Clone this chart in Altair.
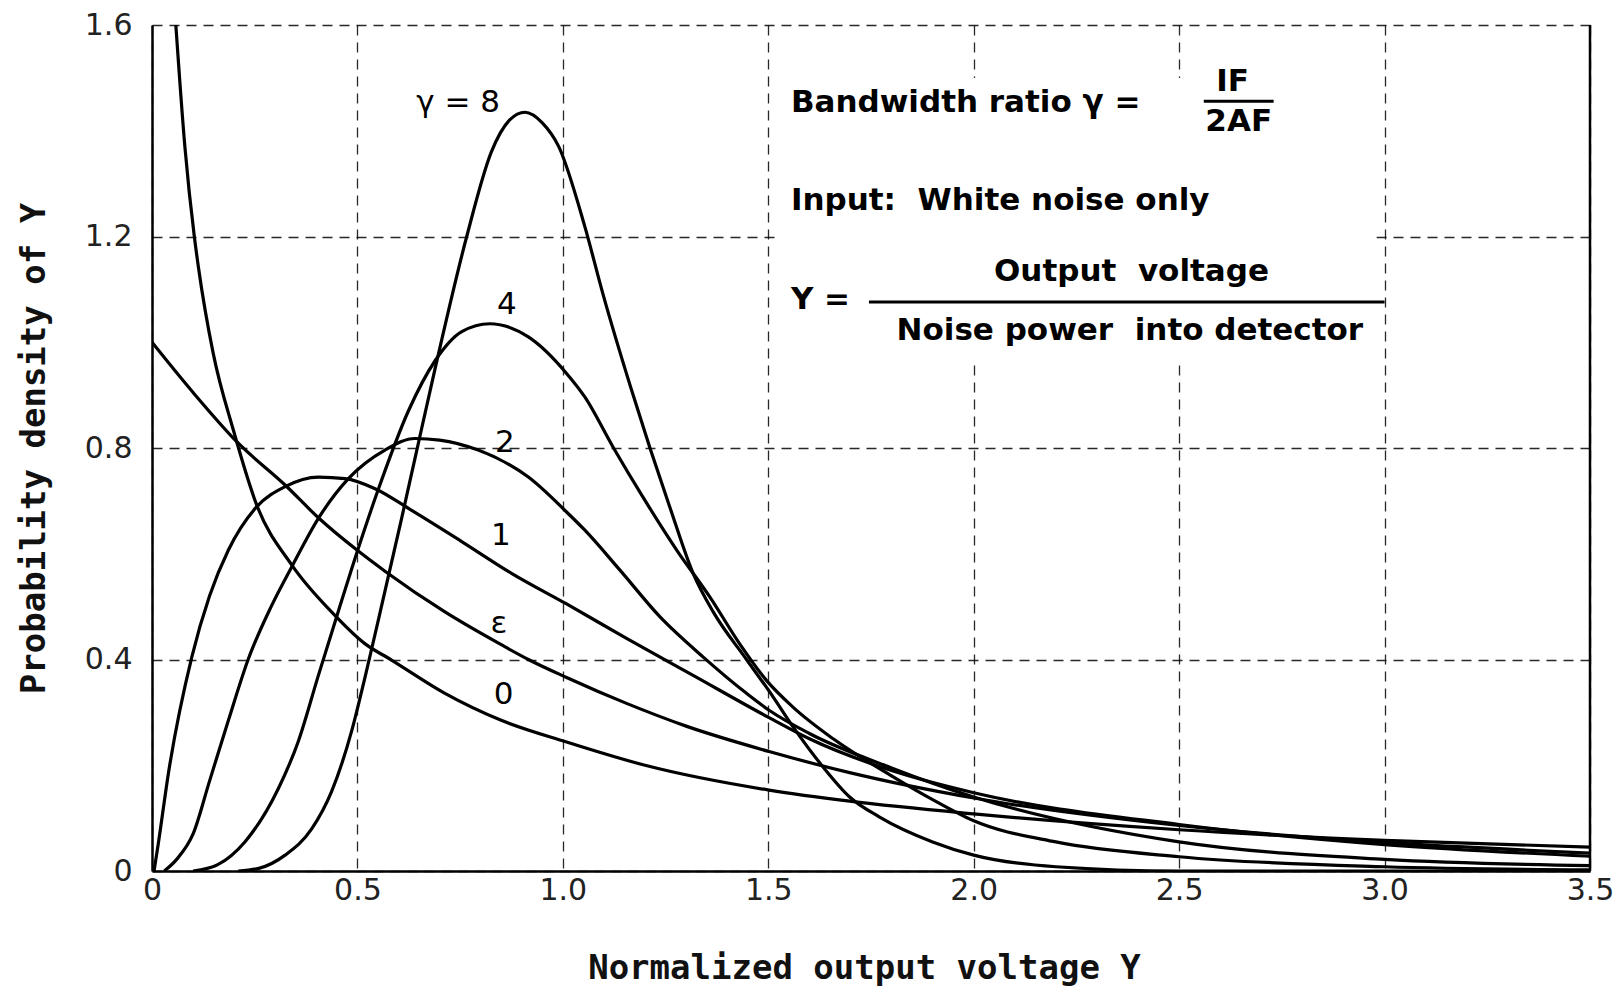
import altair as alt
import pandas as pd

# ---- curve data ----
x_g0 = [0.058, 0.08, 0.103, 0.113, 0.149, 0.198, 0.255, 0.34, 0.437, 0.518, 0.583, 0.713, 0.85, 1.009, 1.2, 1.502, 1.698, 2.0, 2.5, 3.0, 3.5]
y_g0 = [1.6, 1.37, 1.20, 1.142, 0.979, 0.834, 0.692, 0.579, 0.49, 0.43, 0.399, 0.336, 0.285, 0.244, 0.2, 0.153, 0.132, 0.108, 0.078, 0.058, 0.045]

x_eps = [0.0, 0.1, 0.21, 0.324, 0.405, 0.502, 0.567, 0.713, 0.85, 0.916, 1.009, 1.155, 1.3, 1.502, 1.698, 2.0, 2.5, 3.0, 3.5]
y_eps = [1.0, 0.905, 0.809, 0.73, 0.668, 0.605, 0.567, 0.49, 0.428, 0.40, 0.366, 0.317, 0.274, 0.226, 0.186, 0.138, 0.086, 0.054, 0.034]

x_g1 = [0.005, 0.015, 0.04, 0.097, 0.14, 0.186, 0.255, 0.324, 0.405, 0.47, 0.543, 0.632, 0.75, 0.875, 1.009, 1.155, 1.317, 1.502, 1.6, 1.8, 2.0, 2.5, 3.0, 3.5]
y_g1 = [0.0, 0.05, 0.185, 0.405, 0.52, 0.607, 0.689, 0.727, 0.745, 0.742, 0.723, 0.682, 0.625, 0.563, 0.505, 0.44, 0.37, 0.29, 0.25, 0.19, 0.148, 0.088, 0.05, 0.028]

x_g2 = [0.03, 0.06, 0.1, 0.14, 0.186, 0.234, 0.29, 0.34, 0.405, 0.478, 0.567, 0.64, 0.70, 0.794, 0.916, 1.009, 1.053, 1.139, 1.236, 1.341, 1.447, 1.502, 1.6, 1.8, 2.0, 2.5, 3.0, 3.5]
y_g2 = [0.0, 0.022, 0.07, 0.17, 0.285, 0.40, 0.50, 0.575, 0.667, 0.742, 0.796, 0.818, 0.815, 0.796, 0.745, 0.679, 0.645, 0.569, 0.481, 0.405, 0.336, 0.304, 0.26, 0.195, 0.14, 0.055, 0.022, 0.01]

x_g4 = [0.10, 0.16, 0.226, 0.307, 0.356, 0.405, 0.453, 0.502, 0.55, 0.624, 0.689, 0.754, 0.822, 0.916, 1.009, 1.053, 1.122, 1.195, 1.277, 1.358, 1.43, 1.496, 1.56, 1.658, 1.8, 1.9, 2.0, 2.2, 2.5, 3.0, 3.5]
y_g4 = [0.0, 0.012, 0.055, 0.155, 0.245, 0.37, 0.49, 0.61, 0.72, 0.87, 0.965, 1.02, 1.035, 1.01, 0.941, 0.897, 0.802, 0.707, 0.607, 0.518, 0.43, 0.36, 0.31, 0.25, 0.18, 0.135, 0.095, 0.055, 0.027, 0.008, 0.002]

x_g8 = [0.21, 0.26, 0.324, 0.389, 0.437, 0.486, 0.518, 0.551, 0.607, 0.64, 0.689, 0.766, 0.826, 0.87, 0.908, 0.95, 0.99, 1.053, 1.098, 1.167, 1.212, 1.26, 1.317, 1.366, 1.447, 1.512, 1.56, 1.633, 1.698, 1.771, 1.9, 2.0, 2.2, 2.5, 3.5]
y_g8 = [0.0, 0.005, 0.03, 0.08, 0.15, 0.265, 0.365, 0.475, 0.665, 0.78, 0.95, 1.2, 1.36, 1.42, 1.435, 1.415, 1.37, 1.22, 1.09, 0.91, 0.80, 0.689, 0.563, 0.49, 0.40, 0.329, 0.273, 0.197, 0.14, 0.102, 0.055, 0.03, 0.008, 0.0, 0.0]

# curve labels
lab_text = ["γ = 8", "4", "2", "1", "ε", "0"]
lab_x = [0.745, 0.864, 0.859, 0.849, 0.844, 0.856]
lab_y = [1.452, 1.07, 0.809, 0.633, 0.467, 0.333]

# annotation block: left-aligned lines
annL_text = ["Bandwidth ratio γ =", "Input:\u00a0\u00a0White noise only", "Y ="]
annL_x = [1.555, 1.555, 1.555]
annL_y = [1.452, 1.268, 1.079]
# annotation block: centred lines (fraction parts)
annC_text = ["IF", "2AF", "Output\u00a0\u00a0voltage", "Noise power\u00a0\u00a0into detector"]
annC_x = [2.63, 2.645, 2.384, 2.38]
annC_y = [1.492, 1.416, 1.132, 1.021]

bar_x = [2.56, 1.745]
bar_x2 = [2.73, 3.0]
bar_y = [1.456, 1.076]

x_ticks = [0, 0.5, 1.0, 1.5, 2.0, 2.5, 3.0, 3.5]
y_ticks = [0, 0.4, 0.8, 1.2, 1.6]

rows = []
for name, xv, yv in [("0", x_g0, y_g0), ("eps", x_eps, y_eps), ("1", x_g1, y_g1),
                     ("2", x_g2, y_g2), ("4", x_g4, y_g4), ("8", x_g8, y_g8)]:
    for a, b in zip(xv, yv):
        rows.append({"curve": name, "x": a, "y": b})
df = pd.DataFrame(rows)

lab_df = pd.DataFrame({"text": lab_text, "x": lab_x, "y": lab_y})
annL_df = pd.DataFrame({"text": annL_text, "x": annL_x, "y": annL_y})
annC_df = pd.DataFrame({"text": annC_text, "x": annC_x, "y": annC_y})
bar_df = pd.DataFrame({"x": bar_x, "x2": bar_x2, "y": bar_y})

xs = alt.Scale(domain=[0, 3.5], nice=False, zero=False)
ys = alt.Scale(domain=[0, 1.6], nice=False, zero=False)

FONT = "DejaVu Sans"
TFONT = "DejaVu Sans Mono"
lab_expr = "datum.value == 0 ? '0' : format(datum.value, '.1f')"

x_axis = alt.Axis(values=x_ticks, labelExpr=lab_expr, title="Normalized output voltage Y",
                  titleX=712, titleY=97, titleBaseline="middle", titleAlign="center",
                  labelPadding=4, labelFlush=False)
y_axis = alt.Axis(values=y_ticks, labelExpr=lab_expr, title="Probability density of Y",
                  titleX=-118, titleY=423, titleBaseline="middle", titleAlign="center",
                  titleAngle=-90, labelPadding=20, labelFlush=False)

# white area behind the text block (grid interrupted there)
mask_df = pd.DataFrame({"x": [1.52], "x2": [2.98], "y": [0.96], "y2": [1.5]})
mask = alt.Chart(mask_df).mark_rect(color="white").encode(
    x=alt.X("x:Q", scale=xs, axis=x_axis), x2="x2:Q",
    y=alt.Y("y:Q", scale=ys, axis=y_axis), y2="y2:Q")

lines = alt.Chart(df).mark_line(color="black", strokeWidth=3.2, interpolate="monotone", clip=True).encode(
    x=alt.X("x:Q", scale=xs), y=alt.Y("y:Q", scale=ys), detail="curve:N")

right = alt.Chart(pd.DataFrame({"x": [3.5]})).mark_rule(color="black", strokeWidth=2.5).encode(
    x=alt.X("x:Q", scale=xs))

labels = alt.Chart(lab_df).mark_text(font=FONT, fontSize=31, color="black", baseline="middle", align="center").encode(
    x=alt.X("x:Q", scale=xs), y=alt.Y("y:Q", scale=ys), text="text:N")

annL = alt.Chart(annL_df).mark_text(font=FONT, fontSize=31, fontWeight="bold", color="black",
                                     baseline="middle", align="left").encode(
    x=alt.X("x:Q", scale=xs), y=alt.Y("y:Q", scale=ys), text="text:N")

annC = alt.Chart(annC_df).mark_text(font=FONT, fontSize=31, fontWeight="bold", color="black",
                                     baseline="middle", align="center").encode(
    x=alt.X("x:Q", scale=xs), y=alt.Y("y:Q", scale=ys), text="text:N")

bars = alt.Chart(bar_df).mark_rule(color="black", strokeWidth=3).encode(
    x=alt.X("x:Q", scale=xs), x2="x2:Q", y=alt.Y("y:Q", scale=ys))

chart = alt.layer(mask, lines, right, labels, annL, annC, bars).properties(
    width=1438, height=846,
    autosize=alt.AutoSizeParams(type="none"),
    padding={"left": 144, "top": 17, "right": 24, "bottom": 118},
    background="white",
).configure_view(stroke=None).configure_axis(
    grid=True, gridColor="#111", gridDash=[10, 7], gridWidth=1.3, gridOpacity=0.9,
    ticks=False, tickSize=0, domain=True, domainColor="black", domainWidth=2.5,
    labelFont=FONT, labelFontSize=30, labelColor="#222",
    titleFont=TFONT, titleFontSize=34, titleFontWeight="bold", titleColor="#111",
)

chart.save("out.html", embed_options={"renderer": "svg", "actions": False})
